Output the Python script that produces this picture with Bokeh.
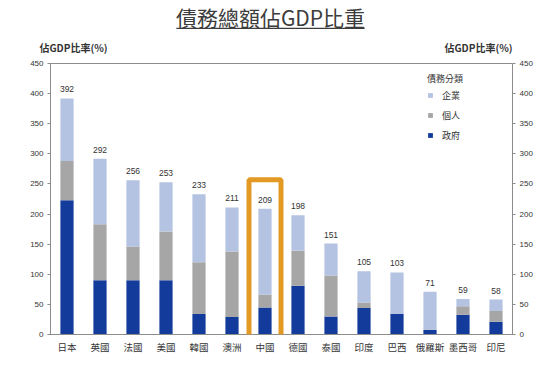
from bokeh.plotting import figure
from bokeh.models import (FactorRange, Range1d, LinearAxis, FixedTicker, Legend, LegendItem,
                          ColumnDataSource, Label, BoxAnnotation)
from bokeh.core.properties import value
from bokeh.embed import file_html
from bokeh.resources import INLINE

categories = ["日本", "英國", "法國", "美國", "韓國", "澳洲", "中國", "德國", "泰國", "印度", "巴西", "俄羅斯", "墨西哥", "印尼"]
government = [223, 90, 90, 90, 34, 29, 45, 81, 30, 44, 34, 8, 33, 21]
household = [65, 93, 56, 81, 86, 109, 21, 58, 68, 9, 0, 0, 14, 18]
corporate = [104, 109, 110, 82, 113, 73, 143, 59, 53, 52, 69, 63, 12, 19]
totals = [392, 292, 256, 253, 233, 211, 209, 198, 151, 105, 103, 71, 59, 58]
y_ticks = [0, 50, 100, 150, 200, 250, 300, 350, 400, 450]

CJK = "Noto Sans CJK TC"
NUM = "Liberation Sans"
C_GOV = "#123B9C"
C_HOUSE = "#A6A6A6"
C_CORP = "#B4C3E1"
AXIS_C = "#8C8C8C"
TXT = "#333333"
TITLE_C = "#3C3C3C"

src = ColumnDataSource(dict(cat=categories, gov=government, house=household, corp=corporate,
                            total=totals, label=[str(t) for t in totals]))

p = figure(width=552, height=372, x_range=FactorRange(*categories, range_padding=0),
           y_range=Range1d(0, 450), output_backend="svg", toolbar_location=None,
           min_border_left=50, min_border_right=40, min_border_top=63, min_border_bottom=38,
           y_axis_location=None)
p.background_fill_color = "white"
p.border_fill_color = "white"
p.outline_line_color = AXIS_C
p.grid.visible = False

rs = p.vbar_stack(["gov", "house", "corp"], x="cat", width=0.4, source=src,
                  color=[C_GOV, C_HOUSE, C_CORP], line_color=None)

p.text(x="cat", y="total", text="label", source=src, text_align="center", text_baseline="bottom",
       y_offset=-6, text_font=value(NUM), text_font_size="8.5px", text_color=TXT)

for side in ("left", "right"):
    ax = LinearAxis(ticker=FixedTicker(ticks=y_ticks))
    ax.axis_line_color = AXIS_C
    ax.major_tick_line_color = AXIS_C
    ax.major_tick_out = 3
    ax.major_tick_in = 0
    ax.minor_tick_line_color = None
    ax.major_label_standoff = 4
    ax.major_label_text_font = NUM
    ax.major_label_text_font_size = "8px"
    ax.major_label_text_color = TXT
    p.add_layout(ax, side)

xa = p.xaxis[0]
xa.axis_line_color = AXIS_C
xa.major_tick_line_color = None
xa.major_tick_out = 0
xa.major_label_standoff = 5
xa.major_label_text_font = CJK
xa.major_label_text_font_size = "9.5px"
xa.major_label_text_color = TXT

legend = Legend(items=[LegendItem(label="企業", renderers=[rs[2]]),
                       LegendItem(label="個人", renderers=[rs[1]]),
                       LegendItem(label="政府", renderers=[rs[0]])],
                title="債務分類", location=(377, 192), padding=0, margin=0,
                glyph_width=6, glyph_height=6, label_height=14, spacing=6,
                label_standoff=9, title_standoff=3,
                border_line_color=None, background_fill_alpha=0)
legend.title_text_font = CJK
legend.title_text_font_size = "9px"
legend.title_text_font_style = "normal"
legend.title_text_color = TXT
legend.label_text_font = CJK
legend.label_text_font_size = "9px"
legend.label_text_color = TXT
p.add_layout(legend, "center")

# annotations in side panels are not clipped to the frame
p.add_layout(Label(x=6.667, y=528, text="債務總額佔GDP比重", text_font=CJK, text_font_size="21px",
                   text_color=TITLE_C, text_align="center", text_baseline="middle"), "above")
# title underline: a blank label whose background is a thin bar
p.add_layout(Label(x=6.667, y=508.3, text=" ", text_font=NUM, text_font_size="1px",
                   text_align="center", text_baseline="middle",
                   background_fill_color=TITLE_C, background_fill_alpha=1,
                   padding=dict(left=94, right=94, top=0, bottom=0)), "above")
for xx in (0.697, 12.97):
    p.add_layout(Label(x=xx, y=476.6, text="佔GDP比率(%)", text_font=CJK, text_font_size="10px",
                       text_font_style="bold", text_color=TXT, text_align="center",
                       text_baseline="middle"), "above")

p.add_layout(BoxAnnotation(left=6.015, right=6.985, bottom=-58, top=257, fill_alpha=0,
                           line_color="#E39A25", line_alpha=1, line_width=5), "below")

open("out.html", "w").write(file_html(p, INLINE))
